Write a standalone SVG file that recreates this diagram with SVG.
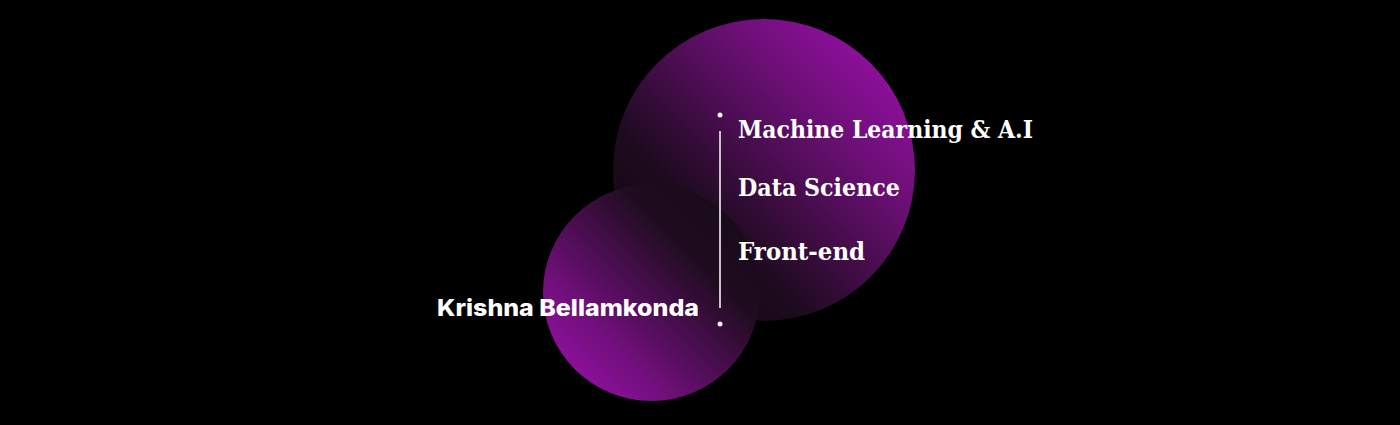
<svg xmlns="http://www.w3.org/2000/svg" width="1400" height="425" viewBox="0 0 1400 425">
  <defs>
    <linearGradient id="gBig" x1="1" y1="0" x2="0" y2="1">
      <stop offset="0" stop-color="#a510b8"/>
      <stop offset="0.3" stop-color="#700f7a"/>
      <stop offset="0.68" stop-color="#1c0b1d"/>
      <stop offset="1" stop-color="#0d060d"/>
    </linearGradient>
    <linearGradient id="gSmall" x1="0" y1="1" x2="1" y2="0">
      <stop offset="0" stop-color="#a510b8"/>
      <stop offset="0.3" stop-color="#700f7a"/>
      <stop offset="0.68" stop-color="#1f0c20"/>
      <stop offset="1" stop-color="#150915"/>
    </linearGradient>
    <style>
      .skill { font-family: "DejaVu Serif", "Liberation Serif", serif; font-weight: bold; font-size: 24px; fill: #ffffff; }
      .name { font-family: Inter, "Open Sans", "Liberation Sans", sans-serif; font-weight: 800; font-size: 23px; fill: #ffffff; }
      .rule { stroke: #c9c3c9; stroke-width: 2; }
      .dot { fill: #f2f2f2; }
    </style>
  </defs>
  <rect width="1400" height="425" fill="#000000"/>
  <g id="circle-big">
    <circle cx="764" cy="170" r="151" fill="url(#gBig)"/>
  </g>
  <g id="circle-small">
    <circle cx="651.5" cy="292.5" r="108.5" fill="url(#gSmall)"/>
  </g>
  <g id="divider">
    <line class="rule" x1="720" y1="131" x2="720" y2="308"/>
    <circle class="dot" cx="720" cy="115" r="2.5"/>
    <circle class="dot" cx="720" cy="324" r="2.5"/>
  </g>
  <g id="name">
    <text class="name" x="437" y="316" textLength="262" lengthAdjust="spacingAndGlyphs">Krishna Bellamkonda</text>
  </g>
  <g id="skill-ml">
    <text class="skill" x="738" y="138" textLength="295" lengthAdjust="spacingAndGlyphs">Machine Learning &amp; A.I</text>
  </g>
  <g id="skill-ds">
    <text class="skill" x="738" y="196" textLength="162" lengthAdjust="spacingAndGlyphs">Data Science</text>
  </g>
  <g id="skill-fe">
    <text class="skill" x="738" y="260" textLength="127" lengthAdjust="spacingAndGlyphs">Front-end</text>
  </g>
</svg>
